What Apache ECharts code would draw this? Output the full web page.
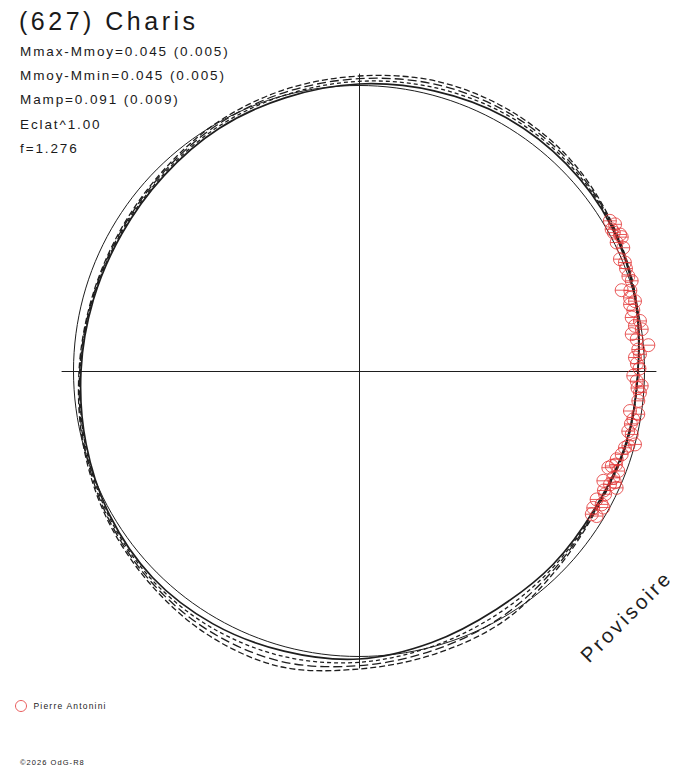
<!DOCTYPE html>
<html>
<head>
<meta charset="utf-8">
<script src="https://cdn.jsdelivr.net/npm/echarts@6/dist/echarts.min.js"></script>
<style>
  html, body { margin: 0; padding: 0; background: #ffffff; }
  #chart { width: 688px; height: 768px; }
  #chart svg text { letter-spacing: 0.14em; }
</style>
</head>
<body>
<div id="chart"></div>
<script>
// ---- data (radius units: reference circle ~285.5, plot edge 297) ----
const TITLE = "(627) Charis";
const STAT_LABELS = [
  "Mmax-Mmoy=0.045 (0.005)",
  "Mmoy-Mmin=0.045 (0.005)",
  "Mamp=0.091 (0.009)",
  "Eclat^1.00",
  "f=1.276"
];
const OBSERVER = "Pierre Antonini";
const WATERMARK = "Provisoire";
const FOOTER = "\u00A92026 OdG-R8";

const R_MAX = 297;
const REF_RADIUS = 285.5;

// closed curves sampled every 15 degrees of phase angle (0..345)
const ANGLES = [0, 15, 30, 45, 60, 75, 90, 105, 120, 135, 150, 165, 180,
                195, 210, 225, 240, 255, 270, 285, 300, 315, 330, 345];
const CURVE_SOLID = [279, 285.5, 291, 293, 293, 290, 287, 283, 280, 276, 274, 275, 278,
                     282.5, 288, 292, 292, 290, 288, 281, 275, 274, 273, 276.5];
const CURVE_DASH_A = [279, 285.8, 291.7, 295, 295.7, 293.3, 289.7, 285.7, 282, 277.3, 275, 275.7, 278.7,
                      283.5, 289.3, 294, 296, 295.3, 291.3, 285, 279.7, 276, 273.7, 276.8];
const CURVE_DASH_B = [279, 286.2, 292.3, 297, 298.3, 296.7, 292.3, 288.3, 284, 278.7, 276, 276.3, 279.3,
                      284.5, 290.7, 296, 300, 300.7, 294.7, 289, 284.3, 278, 274.3, 277.2];
const CURVE_DASH_C = [279, 286.5, 293, 299, 301, 300, 295, 291, 286, 280, 277, 277, 280,
                      285.5, 292, 298, 304, 306, 298, 293, 289, 280, 275, 277.5];

const POINT_R = [298.3, 292.4, 295.1, 289.7, 294.6, 294.9, 287.9, 291.6, 283.9, 287.2,
                 285.6, 287.2, 274.8, 280.7, 284.7, 279.1, 277.9, 285.4, 279.6, 285.8,
                 275.2, 279.5, 290.5, 280.1, 276.3, 281.5, 274.3, 277.9, 283.1, 281.8,
                 280.9, 273.9, 282.6, 278.5, 275.9, 280.0, 285.6, 276.8, 275.6, 272.4,
                 270.0, 267.4, 277.9, 275.8, 267.9, 275.4, 282.9, 275.2, 270.1, 276.9,
                 271.3, 279.9, 273.3, 278.4, 290.0, 286.0, 283.0, 281.0, 278.0, 280.5,
                 279.0, 277.0, 279.5, 273.5, 279.0, 272.5];
const POINT_THETA = [31.5, 30.9, 29.8, 29.3, 27.6, 27.0, 26.5, 25.0, 23.2, 22.2,
                     19.4, 18.3, 17.1, 15.1, 14.2, 13.8, 11.1, 10.1, 9.3, 8.4,
                     7.7, 6.5, 5.1, 4.4, 2.8, 3.4, 359.0, 357.9, 357.0, 355.6,
                     353.9, 351.6, 351.2, 350.0, 347.4, 346.9, 345.1, 343.9, 342.4, 341.1,
                     339.4, 338.8, 338.9, 337.2, 335.8, 335.7, 335.6, 333.4, 331.6, 331.2,
                     329.7, 330.8, 328.4, 328.6, 28.5, 21.0, 16.5, 12.5, 1.5, 0.5,
                     356.5, 349.0, 344.5, 340.0, 336.5, 334.0];

// ---- layout ----
const CX = 359, CY = 371, PLOT_R = 297;
const LINE_COLOR = '#1e1e1e';
const RED = '#e33434';
const FONT = "'Liberation Sans', Arial, sans-serif";

const chart = echarts.init(document.getElementById('chart'), null, { renderer: 'svg' });

// closed smooth curve through the data points (Catmull-Rom -> cubic Bezier),
// positions obtained from the polar axes via api.coord
function curveSeries(values, style) {
  return {
    type: 'custom',
    coordinateSystem: 'polar',
    polarIndex: 0,
    silent: true,
    z: 3,
    data: ANGLES.map((a, i) => [values[i], a]),
    renderItem: function (params, api) {
      if (params.dataIndex !== 0) return null;
      const n = ANGLES.length;
      const p = ANGLES.map((a, i) => api.coord([values[i], a]));
      let d = 'M' + p[0][0].toFixed(2) + ',' + p[0][1].toFixed(2);
      for (let i = 0; i < n; i++) {
        const p0 = p[(i - 1 + n) % n], p1 = p[i], p2 = p[(i + 1) % n], p3 = p[(i + 2) % n];
        const c1x = p1[0] + (p2[0] - p0[0]) / 6, c1y = p1[1] + (p2[1] - p0[1]) / 6;
        const c2x = p2[0] - (p3[0] - p1[0]) / 6, c2y = p2[1] - (p3[1] - p1[1]) / 6;
        d += 'C' + c1x.toFixed(2) + ',' + c1y.toFixed(2) + ' ' + c2x.toFixed(2) + ',' + c2y.toFixed(2) +
             ' ' + p2[0].toFixed(2) + ',' + p2[1].toFixed(2);
      }
      d += 'Z';
      return {
        type: 'path',
        shape: { pathData: d },
        style: Object.assign({ fill: 'none', stroke: LINE_COLOR }, style)
      };
    }
  };
}

const markerPath = 'path://M0,6 A6,6 0 1,1 12,6 A6,6 0 1,1 0,6 Z M0,6 L12,6';

const statTexts = STAT_LABELS.map((t, i) => ({
  type: 'text',
  x: 20,
  y: 51 + i * 24.4,
  style: { text: t, fontSize: 13.5, fontFamily: FONT, fill: '#1a1a1a', verticalAlign: 'middle', align: 'left' }
}));

const option = {
  animation: false,
  backgroundColor: '#ffffff',
  grid: { left: CX - PLOT_R, top: CY - PLOT_R, width: 2 * PLOT_R, height: 2 * PLOT_R },
  xAxis: {
    type: 'value', min: -1, max: 1,
    axisLine: { onZero: true, lineStyle: { color: LINE_COLOR, width: 1 } },
    axisTick: { show: false }, axisLabel: { show: false }, splitLine: { show: false }
  },
  yAxis: {
    type: 'value', min: -1, max: 1,
    axisLine: { onZero: true, lineStyle: { color: LINE_COLOR, width: 1 } },
    axisTick: { show: false }, axisLabel: { show: false }, splitLine: { show: false }
  },
  polar: [
    { center: [CX, CY], radius: PLOT_R },
    { center: [CX, CY], radius: PLOT_R * REF_RADIUS / R_MAX }
  ],
  angleAxis: [
    { polarIndex: 0, type: 'value', min: 0, max: 360, startAngle: 0, clockwise: false, show: false },
    { polarIndex: 1, type: 'value', min: 0, max: 360, startAngle: 0, clockwise: false,
      axisLine: { show: true, lineStyle: { color: LINE_COLOR, width: 1 } },
      axisTick: { show: false }, axisLabel: { show: false }, splitLine: { show: false } }
  ],
  radiusAxis: [
    { polarIndex: 0, type: 'value', min: 0, max: R_MAX, show: false },
    { polarIndex: 1, type: 'value', min: 0, max: 1, show: false }
  ],
  legend: {
    left: 15, top: 700, padding: 0,
    itemWidth: 15, itemHeight: 11,
    icon: 'circle',
    itemStyle: { color: 'rgba(0,0,0,0)', borderColor: RED, borderWidth: 1 },
    textStyle: { fontSize: 8.5, fontFamily: FONT, color: '#222' },
    data: [OBSERVER],
    selectedMode: false
  },
  series: [
    curveSeries(CURVE_DASH_C, { lineWidth: 1.3, lineDash: [6, 3] }),
    curveSeries(CURVE_DASH_B, { lineWidth: 1.3, lineDash: [9, 4] }),
    curveSeries(CURVE_DASH_A, { lineWidth: 1.3, lineDash: [4, 3] }),
    curveSeries(CURVE_SOLID, { lineWidth: 1.7 }),
    {
      name: OBSERVER,
      type: 'scatter',
      coordinateSystem: 'polar',
      polarIndex: 0,
      data: POINT_R.map((r, i) => [r, POINT_THETA[i]]),
      symbol: markerPath,
      symbolSize: 13,
      itemStyle: { color: 'rgba(0,0,0,0)', borderColor: RED, borderWidth: 1 },
      z: 5
    }
  ],
  graphic: [
    { type: 'text', x: 19, y: 21,
      style: { text: TITLE, fontSize: 25, fontFamily: FONT, fill: '#1a1a1a', verticalAlign: 'middle', align: 'left' } },
    ...statTexts,
    { type: 'text', x: 626, y: 616, rotation: Math.PI / 4,
      style: { text: WATERMARK, fontSize: 20.5, fontFamily: FONT, fill: '#1e1e1e', verticalAlign: 'middle', align: 'center' } },
    { type: 'text', x: 20, y: 762,
      style: { text: FOOTER, fontSize: 7.5, fontFamily: FONT, fill: '#222', verticalAlign: 'middle', align: 'left' } }
  ]
};

chart.setOption(option);
</script>
</body>
</html>
